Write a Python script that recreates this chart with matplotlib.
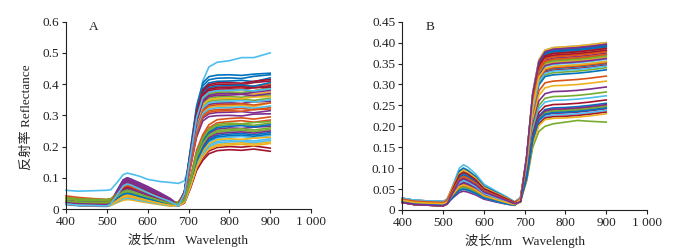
import matplotlib
matplotlib.use("Agg")
import matplotlib.pyplot as plt
from matplotlib.ticker import FixedLocator

plt.rcParams['font.family'] = ['Liberation Serif', 'Noto Sans CJK SC']

# Wavelength sample points (nm): visible part and red-edge / NIR part
wl_vis = [400, 430, 500, 510, 525, 540, 550, 560, 580, 600, 630, 655, 675]
wl_nir = [690, 705, 720, 735, 750, 770, 800, 830, 860, 900]

# Panel A, visible part (one row per sample)
a_vis = [
    [.021,.017,.015,.019,.043,.065,.07,.067,.056,.046,.032,.021,.013],
    [.026,.022,.02,.023,.04,.056,.06,.057,.048,.039,.027,.018,.016],
    [.031,.027,.025,.027,.038,.047,.05,.048,.04,.033,.023,.015,.019],
    [.016,.012,.01,.016,.05,.084,.09,.086,.075,.065,.048,.03,.01],
    [.036,.032,.03,.033,.048,.06,.065,.062,.052,.042,.029,.02,.022],
    [.06,.057,.06,.062,.085,.11,.115,.112,.105,.095,.088,.085,.082],
    [.018,.014,.012,.017,.046,.074,.08,.076,.064,.052,.036,.024,.011],
    [.024,.02,.018,.025,.059,.093,.1,.095,.08,.065,.045,.03,.015],
    [.026,.022,.02,.022,.033,.042,.045,.043,.036,.029,.02,.014,.016],
    [.016,.012,.01,.012,.025,.037,.04,.038,.032,.026,.018,.012,.01],
    [.021,.017,.015,.021,.055,.088,.095,.09,.08,.07,.05,.032,.013],
    [.026,.022,.02,.022,.035,.047,.05,.048,.04,.033,.023,.015,.016],
    [.014,.01,.008,.012,.034,.056,.06,.057,.048,.039,.027,.018,.009],
    [.016,.012,.01,.015,.043,.07,.075,.071,.06,.049,.034,.023,.01],
    [.026,.022,.02,.025,.053,.079,.085,.081,.068,.055,.038,.026,.016],
    [.036,.032,.03,.032,.043,.051,.055,.052,.044,.036,.025,.017,.022],
    [.018,.014,.012,.014,.024,.033,.035,.033,.028,.023,.016,.011,.011],
    [.021,.017,.015,.019,.043,.065,.07,.067,.06,.052,.038,.025,.013],
    [.026,.022,.02,.025,.05,.074,.08,.076,.064,.052,.036,.024,.016],
    [.016,.012,.01,.013,.028,.042,.045,.043,.036,.029,.02,.014,.01],
    [.021,.017,.015,.021,.053,.084,.09,.086,.072,.059,.041,.027,.013],
    [.026,.022,.02,.023,.04,.056,.06,.057,.048,.039,.027,.018,.016],
    [.042,.037,.03,.032,.04,.047,.05,.048,.04,.033,.023,.015,.022],
    [.016,.012,.01,.012,.02,.028,.03,.029,.024,.02,.014,.009,.01],
    [.021,.017,.015,.022,.058,.093,.1,.095,.084,.072,.052,.034,.013],
    [.033,.028,.025,.028,.045,.06,.065,.062,.052,.042,.029,.02,.019],
    [.016,.012,.01,.013,.03,.047,.05,.048,.04,.033,.023,.015,.01],
    [.018,.014,.012,.017,.044,.07,.075,.071,.06,.049,.034,.023,.011],
    [.024,.02,.018,.021,.039,.056,.06,.057,.048,.039,.027,.018,.015],
    [.026,.022,.02,.022,.03,.037,.04,.038,.032,.026,.018,.012,.016],
    [.021,.017,.015,.018,.035,.051,.055,.052,.044,.036,.025,.017,.013],
    [.016,.012,.01,.016,.048,.079,.085,.081,.072,.062,.045,.03,.01],
    [.036,.032,.03,.033,.05,.065,.07,.067,.056,.046,.032,.021,.022],
    [.016,.012,.01,.012,.023,.033,.035,.033,.028,.023,.016,.011,.01],
    [.026,.022,.02,.024,.043,.06,.065,.062,.052,.042,.029,.02,.016],
    [.021,.017,.015,.018,.033,.047,.05,.048,.04,.033,.023,.015,.013],
    [.026,.022,.02,.025,.05,.074,.08,.076,.064,.052,.036,.024,.016],
    [.016,.012,.01,.013,.028,.042,.045,.043,.036,.029,.02,.014,.01],
    [.018,.014,.012,.018,.051,.084,.09,.086,.076,.066,.048,.031,.011],
    [.026,.022,.02,.023,.038,.051,.055,.052,.044,.036,.025,.017,.016],
    [.021,.017,.015,.019,.038,.056,.06,.057,.048,.039,.027,.018,.013],
    [.016,.012,.01,.015,.04,.065,.07,.067,.056,.046,.032,.021,.01],
    [.026,.022,.02,.022,.035,.047,.05,.048,.04,.033,.023,.015,.016],
    [.024,.02,.018,.023,.047,.07,.075,.071,.06,.049,.034,.023,.015],
    [.018,.014,.012,.014,.026,.037,.04,.038,.032,.026,.018,.012,.011],
    [.021,.017,.015,.019,.04,.06,.065,.062,.055,.047,.034,.022,.013],
    [.026,.022,.02,.023,.04,.056,.06,.057,.048,.039,.027,.018,.016],
    [.016,.012,.01,.016,.045,.074,.08,.076,.064,.052,.036,.024,.01],
]

# Panel A, red edge and NIR part
a_nir = [
    [.055,.189,.323,.395,.414,.419,.42,.418,.425,.43],
    [.049,.171,.293,.357,.374,.379,.38,.383,.378,.39],
    [.044,.153,.262,.32,.335,.339,.34,.337,.343,.345],
    [.04,.14,.239,.291,.305,.309,.31,.312,.308,.315],
    [.047,.162,.277,.338,.355,.359,.36,.358,.364,.365],
    [.09,.15,.27,.41,.455,.47,.475,.485,.485,.50],
    [.052,.18,.308,.376,.394,.399,.40,.398,.405,.41],
    [.056,.194,.331,.404,.424,.429,.43,.428,.432,.435],
    [.028,.098,.182,.23,.26,.276,.28,.283,.278,.285],
    [.043,.149,.254,.31,.325,.329,.33,.332,.328,.34],
    [.039,.135,.231,.282,.296,.299,.30,.298,.304,.305],
    [.027,.095,.176,.221,.251,.266,.27,.272,.268,.275],
    [.022,.077,.143,.18,.205,.217,.22,.222,.218,.225],
    [.019,.067,.124,.156,.177,.187,.19,.188,.192,.185],
    [.053,.185,.316,.385,.404,.409,.41,.412,.408,.42],
    [.051,.176,.3,.367,.384,.389,.39,.388,.394,.40],
    [.048,.167,.285,.348,.364,.369,.37,.372,.368,.375],
    [.026,.091,.169,.213,.242,.256,.26,.258,.262,.265],
    [.046,.158,.27,.329,.345,.349,.35,.352,.348,.355],
    [.023,.081,.15,.189,.214,.227,.23,.232,.228,.235],
    [.05,.173,.296,.362,.379,.384,.385,.383,.389,.39],
    [.024,.084,.156,.197,.223,.236,.24,.242,.238,.245],
    [.042,.144,.246,.301,.315,.319,.32,.322,.318,.325],
    [.021,.074,.137,.172,.195,.207,.21,.212,.208,.215],
    [.044,.153,.262,.32,.335,.339,.34,.338,.344,.345],
    [.025,.088,.163,.205,.233,.246,.25,.252,.248,.255],
    [.045,.155,.266,.324,.34,.344,.345,.347,.343,.35],
    [.02,.07,.13,.164,.186,.197,.20,.198,.202,.195],
    [.051,.178,.304,.371,.389,.394,.395,.397,.393,.405],
    [.029,.102,.189,.238,.27,.286,.29,.292,.288,.295],
    [.046,.16,.273,.334,.35,.354,.355,.353,.359,.36],
    [.025,.086,.159,.201,.228,.241,.245,.247,.243,.25],
    [.049,.169,.289,.353,.369,.374,.375,.373,.379,.385],
    [.022,.075,.14,.176,.2,.212,.215,.217,.213,.22],
    [.053,.182,.312,.381,.399,.404,.405,.403,.409,.415],
    [.027,.093,.172,.217,.246,.261,.265,.267,.263,.27],
    [.044,.151,.258,.315,.33,.334,.335,.337,.333,.34],
    [.023,.079,.146,.185,.209,.222,.225,.223,.227,.23],
    [.047,.164,.281,.343,.36,.364,.365,.367,.363,.37],
    [.028,.096,.179,.226,.256,.271,.275,.273,.277,.28],
    [.042,.146,.25,.306,.32,.324,.325,.327,.323,.33],
    [.051,.176,.3,.367,.384,.389,.39,.392,.388,.395],
    [.024,.082,.153,.193,.219,.231,.235,.237,.233,.24],
    [.041,.142,.243,.296,.31,.314,.315,.313,.319,.32],
    [.021,.072,.133,.168,.191,.202,.205,.207,.203,.21],
    [.048,.167,.285,.348,.364,.369,.37,.368,.374,.38],
    [.026,.089,.166,.209,.237,.251,.255,.257,.253,.26],
    [.049,.171,.293,.357,.374,.379,.38,.382,.378,.385],
]

# Panel B, visible part
b_vis = [
    [.023,.018,.015,.021,.053,.084,.09,.086,.072,.051,.038,.027,.018],
    [.02,.015,.012,.017,.041,.065,.07,.067,.056,.04,.029,.021,.015],
    [.026,.021,.018,.025,.059,.093,.1,.095,.08,.057,.042,.03,.019],
    [.018,.013,.01,.016,.048,.079,.085,.081,.068,.048,.036,.026,.017],
    [.028,.023,.02,.023,.04,.056,.06,.057,.048,.034,.025,.018,.013],
    [.023,.018,.015,.022,.062,.1,.108,.103,.086,.062,.045,.032,.02],
    [.02,.015,.012,.017,.046,.074,.08,.076,.064,.046,.034,.024,.016],
    [.023,.018,.015,.02,.045,.07,.075,.071,.06,.043,.032,.023,.015],
    [.028,.023,.02,.026,.058,.088,.095,.09,.076,.054,.04,.029,.018],
    [.018,.013,.01,.014,.038,.06,.065,.062,.052,.037,.027,.02,.014],
    [.026,.021,.018,.024,.054,.084,.09,.086,.072,.051,.038,.027,.018],
    [.023,.018,.015,.018,.033,.047,.05,.048,.04,.029,.021,.015,.012],
    [.02,.015,.012,.017,.041,.065,.07,.067,.056,.04,.029,.021,.015],
    [.028,.023,.02,.025,.053,.079,.085,.081,.068,.048,.036,.026,.017],
    [.023,.018,.015,.019,.038,.056,.06,.057,.048,.034,.025,.018,.013],
    [.02,.015,.012,.017,.044,.07,.075,.071,.06,.043,.032,.023,.015],
    [.026,.021,.018,.022,.042,.06,.065,.062,.052,.037,.027,.02,.014],
    [.018,.013,.01,.014,.035,.056,.06,.057,.048,.034,.025,.018,.013],
    [.023,.018,.015,.018,.035,.051,.055,.052,.044,.031,.023,.017,.012],
    [.028,.023,.02,.023,.04,.056,.06,.057,.048,.034,.025,.018,.013],
    [.02,.015,.012,.017,.041,.065,.07,.067,.056,.04,.029,.021,.015],
    [.023,.018,.015,.018,.033,.047,.05,.048,.04,.029,.021,.015,.012],
    [.018,.013,.01,.014,.033,.051,.055,.052,.044,.031,.023,.017,.012],
    [.026,.021,.018,.021,.034,.047,.05,.048,.04,.029,.021,.015,.012],
    [.023,.018,.015,.017,.03,.042,.045,.043,.036,.026,.019,.014,.011],
    [.02,.015,.012,.016,.036,.056,.06,.057,.048,.034,.025,.018,.013],
    [.028,.023,.02,.022,.035,.047,.05,.048,.04,.029,.021,.015,.012],
    [.023,.018,.015,.019,.04,.06,.065,.062,.052,.037,.027,.02,.014],
    [.018,.013,.01,.017,.055,.093,.1,.095,.08,.057,.042,.03,.019],
    [.023,.018,.015,.02,.048,.074,.08,.076,.064,.046,.034,.024,.016],
    [.02,.015,.012,.016,.036,.056,.06,.057,.048,.034,.025,.018,.013],
    [.026,.021,.018,.022,.044,.065,.07,.067,.056,.04,.029,.021,.015],
    [.023,.018,.015,.018,.035,.051,.055,.052,.044,.031,.023,.017,.012],
    [.028,.023,.02,.026,.055,.084,.09,.086,.072,.051,.038,.027,.018],
    [.02,.015,.012,.016,.036,.056,.06,.057,.048,.034,.025,.018,.013],
    [.023,.018,.015,.021,.05,.079,.085,.081,.068,.048,.036,.026,.017],
    [.018,.013,.01,.015,.043,.07,.075,.071,.06,.043,.032,.023,.015],
    [.026,.021,.018,.024,.057,.088,.095,.09,.076,.054,.04,.029,.018],
    [.023,.018,.015,.019,.04,.06,.065,.062,.052,.037,.027,.02,.014],
    [.02,.015,.012,.017,.046,.074,.08,.076,.064,.046,.034,.024,.016],
    [.028,.023,.02,.024,.045,.065,.07,.067,.056,.04,.029,.021,.015],
    [.023,.018,.015,.021,.053,.084,.09,.086,.072,.051,.038,.027,.018],
    [.02,.015,.012,.015,.031,.047,.05,.048,.04,.029,.021,.015,.012],
    [.026,.021,.018,.023,.049,.074,.08,.076,.064,.046,.034,.024,.016],
    [.023,.018,.015,.019,.038,.056,.06,.057,.048,.034,.025,.018,.013],
    [.018,.013,.01,.015,.043,.07,.075,.071,.06,.043,.032,.023,.015],
]

# Panel B, red edge and NIR part
b_nir = [
    [.025,.127,.277,.354,.377,.383,.385,.387,.39,.395],
    [.022,.122,.266,.34,.363,.368,.37,.372,.375,.38],
    [.028,.124,.27,.345,.368,.373,.375,.377,.38,.385],
    [.02,.128,.279,.357,.38,.386,.388,.39,.393,.398],
    [.03,.119,.259,.331,.353,.358,.36,.362,.365,.37],
    [.025,.116,.252,.322,.343,.348,.35,.352,.355,.36],
    [.022,.126,.275,.351,.374,.38,.382,.384,.387,.392],
    [.025,.112,.245,.313,.333,.338,.34,.342,.345,.35],
    [.03,.125,.272,.348,.37,.376,.378,.38,.383,.388],
    [.02,.117,.256,.327,.348,.353,.355,.357,.36,.365],
    [.028,.12,.263,.336,.358,.363,.365,.367,.37,.375],
    [.025,.109,.238,.304,.323,.328,.33,.332,.335,.34],
    [.022,.114,.248,.317,.338,.343,.345,.347,.35,.355],
    [.03,.123,.268,.342,.365,.37,.372,.374,.377,.382],
    [.025,.107,.234,.299,.319,.323,.325,.327,.33,.335],
    [.022,.102,.223,.285,.304,.308,.31,.312,.315,.32],
    [.028,.098,.215,.274,.292,.297,.298,.3,.303,.308],
    [.02,.094,.204,.261,.278,.283,.284,.286,.289,.294],
    [.025,.09,.196,.25,.267,.271,.272,.274,.277,.282],
    [.03,.087,.189,.242,.258,.262,.263,.265,.268,.273],
    [.022,.083,.182,.233,.248,.252,.253,.255,.258,.263],
    [.025,.081,.176,.225,.24,.244,.245,.247,.25,.255],
    [.02,.079,.173,.221,.235,.239,.24,.242,.245,.25],
    [.028,.078,.17,.217,.231,.235,.236,.238,.241,.246],
    [.025,.077,.167,.213,.227,.231,.232,.234,.237,.242],
    [.022,.07,.15,.188,.2,.206,.21,.214,.212,.21],
    [.03,.075,.164,.21,.223,.227,.228,.23,.233,.238],
    [.025,.074,.161,.206,.22,.223,.224,.226,.229,.234],
    [.02,.125,.274,.35,.372,.378,.38,.382,.385,.39],
    [.025,.121,.265,.339,.361,.366,.368,.37,.373,.378],
    [.022,.073,.158,.202,.216,.219,.22,.222,.225,.23],
    [.028,.116,.253,.324,.345,.35,.352,.354,.357,.362],
    [.025,.079,.171,.219,.233,.237,.238,.24,.243,.248],
    [.03,.129,.281,.359,.382,.388,.39,.392,.395,.40],
    [.022,.111,.242,.309,.329,.334,.336,.338,.341,.346],
    [.025,.126,.276,.352,.375,.381,.383,.385,.388,.393],
    [.02,.113,.246,.315,.335,.34,.342,.344,.347,.352],
    [.028,.129,.281,.359,.382,.388,.39,.392,.395,.40],
    [.025,.08,.174,.223,.237,.241,.242,.244,.247,.252],
    [.022,.118,.258,.329,.351,.356,.358,.36,.363,.368],
    [.03,.11,.24,.307,.327,.332,.334,.336,.339,.344],
    [.025,.124,.271,.346,.368,.374,.376,.378,.381,.386],
    [.022,.077,.168,.215,.229,.233,.234,.236,.239,.244],
    [.028,.119,.261,.333,.355,.36,.362,.364,.367,.372],
    [.025,.114,.248,.317,.338,.343,.345,.347,.35,.355],
    [.02,.127,.278,.355,.378,.384,.386,.388,.391,.396],
]

x_ticks = [400, 500, 600, 700, 800, 900, 1000]
x_tick_labels = ["400", "500", "600", "700", "800", "900", "1 000"]
a_y_ticks = [0, 0.1, 0.2, 0.3, 0.4, 0.5, 0.6]
a_y_tick_labels = ["0", "0.1", "0.2", "0.3", "0.4", "0.5", "0.6"]
b_y_ticks = [0, 0.05, 0.10, 0.15, 0.20, 0.25, 0.30, 0.35, 0.40, 0.45]
b_y_tick_labels = ["0", "0.05", "0.10", "0.15", "0.20", "0.25", "0.30", "0.35", "0.40", "0.45"]

line_colors = ['#0072BD', '#D95319', '#EDB120', '#7E2F8E', '#77AC30', '#4DBEEE', '#A2142F']

wavelengths = wl_vis + wl_nir

fig = plt.figure(figsize=(6.76, 2.52), dpi=100)
ax_a = fig.add_axes([66/676, 43/252, 245/676, 187.3/252])
ax_b = fig.add_axes([402.3/676, 42/252, 244.7/676, 188.3/252])


def style(ax, yticks, ylabels, ymax, letter):
    ax.set_xlim(400, 1000)
    ax.set_ylim(0, ymax)
    ax.xaxis.set_major_locator(FixedLocator(x_ticks))
    ax.set_xticklabels(x_tick_labels)
    ax.yaxis.set_major_locator(FixedLocator(yticks))
    ax.set_yticklabels(ylabels)
    for s in ['top', 'right']:
        ax.spines[s].set_visible(False)
    for s in ['left', 'bottom']:
        ax.spines[s].set_linewidth(0.8)
        ax.spines[s].set_color('#222222')
    ax.tick_params(direction='out', length=3, width=0.8, labelsize=9.5, pad=2,
                   colors='#222222', labelcolor='#222222')
    ax.set_xlabel("波长/nm   Wavelength", fontsize=9.5, color='#222222')
    ax.xaxis.label.set_va('center')
    ax.xaxis.set_label_coords(0.5, -0.165)
    ax.text(0.114, 0.972, letter, transform=ax.transAxes, fontsize=9.5,
            ha='center', va='center', color='#222222')


for i, (v, n) in enumerate(zip(a_vis, a_nir)):
    ax_a.plot(wavelengths, v + n, color=line_colors[i % 7], lw=1.2, clip_on=False)
for i, (v, n) in enumerate(zip(b_vis, b_nir)):
    ax_b.plot(wavelengths, v + n, color=line_colors[i % 7], lw=1.2, clip_on=False)

style(ax_a, a_y_ticks, a_y_tick_labels, 0.6, "A")
style(ax_b, b_y_ticks, b_y_tick_labels, 0.45, "B")

ax_a.set_ylabel("反射率 Reflectance", fontsize=9.5, color='#222222')
ax_a.yaxis.label.set_va('center')
ax_a.yaxis.set_label_coords(-0.159, 0.49)

fig.savefig("out.png", dpi=100)
